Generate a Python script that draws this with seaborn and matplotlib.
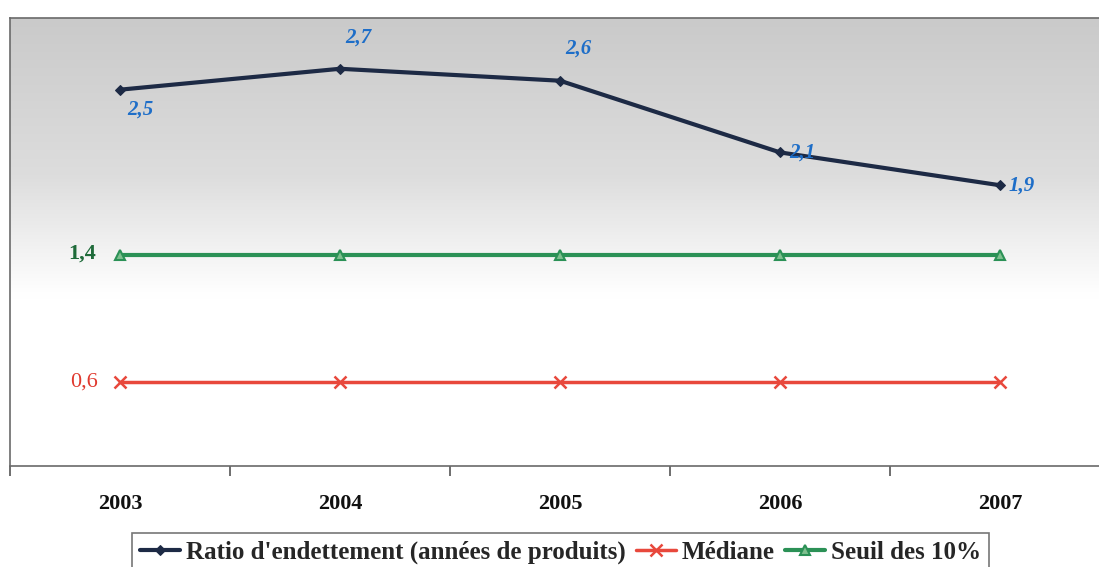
import matplotlib
matplotlib.use("Agg")
import matplotlib.pyplot as plt
import numpy as np
import pandas as pd
import seaborn as sns
from matplotlib.colors import LinearSegmentedColormap
from matplotlib.ticker import FixedLocator

years = ["2003", "2004", "2005", "2006", "2007"]
ratio = [2.52, 2.66, 2.58, 2.10, 1.88]
mediane = [0.56, 0.56, 0.56, 0.56, 0.56]
seuil = [1.41, 1.41, 1.41, 1.41, 1.41]

series_names = [
    "Ratio d'endettement (années de produits)",
    "Médiane",
    "Seuil des 10%",
]

sns.set_theme(style="white")
plt.rcParams["font.family"] = ["Liberation Serif", "DejaVu Serif"]

NAVY = "#1d2a45"
RED = "#e8483c"
GREEN = "#2b9156"


def fmt(v):
    return f"{v:.1f}".replace(".", ",")


fig = plt.figure(figsize=(10.99, 5.67), dpi=100)
ax = fig.add_axes([10 / 1099, 101 / 567, 1100 / 1099, 448 / 567])

# grey-to-white background gradient
cmap = LinearSegmentedColormap.from_list(
    "bg", [(0.0, "#cacaca"), (0.35, "#dddddd"), (0.62, "#ffffff"), (1.0, "#ffffff")]
)
grad = np.linspace(0, 1, 256).reshape(-1, 1)
ax.imshow(grad, cmap=cmap, aspect="auto", extent=[0, 1, 0, 1],
          transform=ax.transAxes, zorder=0, interpolation="bicubic")

x = np.arange(len(years))
sns.lineplot(x=x, y=ratio, ax=ax, color=NAVY, lw=3, marker="D", markersize=5,
             markeredgecolor=NAVY, label=series_names[0], zorder=3)
sns.lineplot(x=x, y=mediane, ax=ax, color=RED, lw=2.5, marker="x", markersize=9,
             markeredgewidth=1.8, markeredgecolor=RED, label=series_names[1], zorder=3)
sns.lineplot(x=x, y=seuil, ax=ax, color=GREEN, lw=3, marker="^", markersize=7,
             markerfacecolor="#7fc08f", markeredgecolor=GREEN, markeredgewidth=1.5,
             label=series_names[2], zorder=3)

ax.set_xlim(-0.5, 4.5)
ax.set_ylim(0, 3)

# data labels
lbl_kw = dict(fontsize=15, fontweight="bold", fontstyle="italic", color="#1e6ec8", zorder=4)
offsets = [(20, -20), (18, 31), (18, 32), (22, 0), (22, 0)]
for xi, v, (dx, dy) in zip(x, ratio, offsets):
    ax.annotate(fmt(v), (xi, v), xytext=(dx, dy), textcoords="offset pixels",
                ha="center", va="center", **lbl_kw)
ax.annotate(fmt(seuil[0]), (x[0], seuil[0]), xytext=(-38, 2), textcoords="offset pixels",
            ha="center", va="center", fontsize=16, fontweight="bold", color="#1f6b3a")
ax.annotate(fmt(mediane[0]), (x[0], mediane[0]), xytext=(-36, 0), textcoords="offset pixels",
            ha="center", va="center", fontsize=16, color="#e0392e")

# category axis: labels centred, ticks between categories
ax.set_xticks(x)
ax.set_xticklabels(years, fontsize=16, fontweight="bold", color="#111111")
ax.tick_params(axis="x", which="major", bottom=True, length=0, pad=20)
ax.xaxis.set_minor_locator(FixedLocator(np.arange(-0.5, 5.0, 1.0)))
ax.tick_params(axis="x", which="minor", bottom=True, length=7, width=1.2,
               color="#555555", direction="out")
ax.set_yticks([])
ax.set_xlabel("")
ax.set_ylabel("")

for side, sp in ax.spines.items():
    sp.set_color("#6a6a6a")
    sp.set_linewidth(1.2)

leg = fig.legend(loc="lower center", bbox_to_anchor=(0.51, -0.03), ncol=3,
                 frameon=True, fancybox=False, handlelength=1.6, handletextpad=0.25,
                 columnspacing=0.4, borderpad=0.3,
                 prop={"family": ["Liberation Serif"], "weight": "bold", "size": 18})
leg.get_frame().set_edgecolor("#555555")
leg.get_frame().set_linewidth(1.2)
ax.get_legend().remove()

fig.savefig("out.png", dpi=100)
